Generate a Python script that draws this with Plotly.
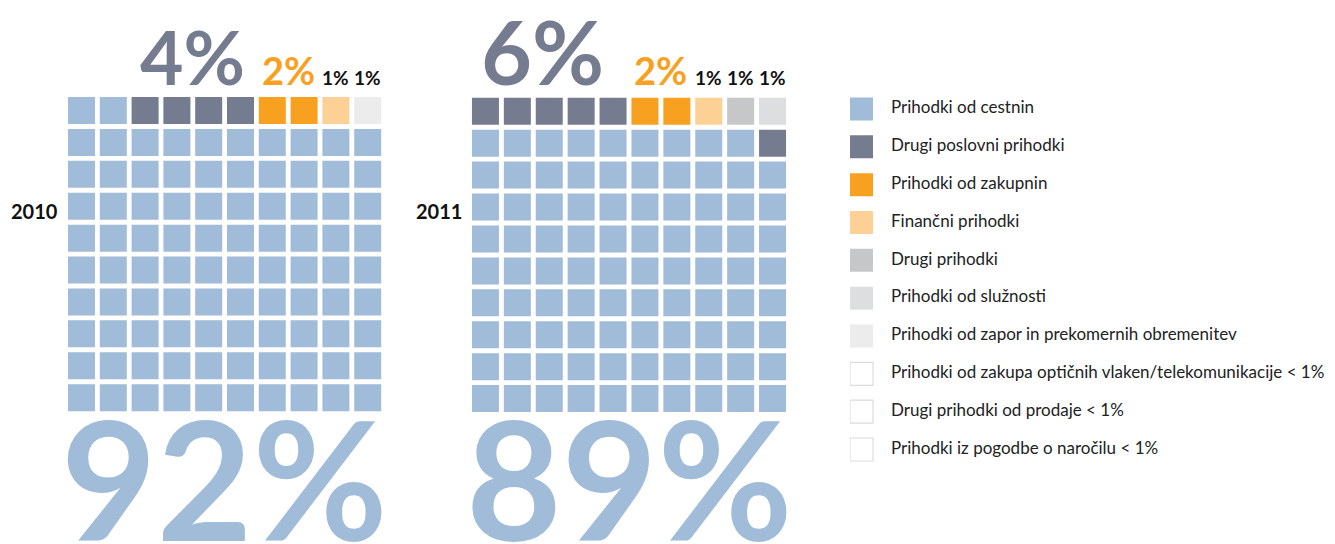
import plotly.graph_objects as go

# ---------------- data ----------------
categories = [
    "Prihodki od cestnin",
    "Drugi poslovni prihodki",
    "Prihodki od zakupnin",
    "Finančni prihodki",
    "Drugi prihodki",
    "Prihodki od služnosti",
    "Prihodki od zapor in prekomernih obremenitev",
    "Prihodki od zakupa optičnih vlaken/telekomunikacije < 1%",
    "Drugi prihodki od prodaje < 1%",
    "Prihodki iz pogodbe o naročilu < 1%",
]
years = ["2010", "2011"]
values_2010 = [92, 4, 2, 1, 0, 0, 1, 0, 0, 0]
values_2011 = [89, 6, 2, 1, 1, 1, 0, 0, 0, 0]

# ---------------- style ----------------
colors = ["#a0bcd8", "#767c8f", "#f8a020", "#fdd096", "#c6c7c9",
          "#dddee0", "#ececec", "#ffffff", "#ffffff", "#ffffff"]
border = ["rgba(0,0,0,0)"] * 7 + ["#dcdcdc"] * 3
label_color = {0: "#a0bcd8", 1: "#767c8f", 2: "#f8a020"}
label_size = {1: 19, 2: 38, 4: 75, 6: 88}
big_size = 165
FONT_B = "Lato"
W, H = 1335, 544
DESC = 0.213  # descent fraction of the font

panels = [
    dict(vals=values_2010, x="x", y="y", xd=[65.6 / W, 383.6 / W], yd=[0.2397, 0.8261]),
    dict(vals=values_2011, x="x2", y="y2", xd=[469.5 / W, 788.5 / W], yd=[0.238, 0.8248]),
]

fig = go.Figure()
annotations = []

for p_i, (year, p) in enumerate(zip(years, panels)):
    k = 0
    for c_i, v in enumerate(p["vals"]):
        xs, ys = [], []
        for _ in range(v):
            xs.append(k % 10)       # fill left to right
            ys.append(k // 10)      # from the bottom row upwards
            k += 1
        if v == 0:
            continue
        fig.add_trace(go.Scatter(
            x=xs, y=ys, mode="markers", xaxis=p["x"], yaxis=p["y"],
            marker=dict(symbol="square", size=27, color=colors[c_i], line=dict(width=0)),
            name=categories[c_i], showlegend=False,
            hovertemplate=categories[c_i] + ": " + str(v) + "%<extra>" + year + "</extra>",
        ))
        top_cols = [x for x, y in zip(xs, ys) if y == 9]
        if c_i == 0:
            annotations.append(dict(
                x=4.5, xref=p["x"], y=(H - 542) / H, yref="paper",
                text=f"{v}%", showarrow=False, xanchor="center", yanchor="bottom",
                yshift=-(DESC * big_size + 1),
                font=dict(family=FONT_B, size=big_size, color=label_color[0], weight=700),
            ))
        elif top_cols:
            s = label_size.get(v, 19)
            annotations.append(dict(
                x=sum(top_cols) / len(top_cols), xref=p["x"], y=(H - 86) / H, yref="paper",
                text=f"{v}%", showarrow=False, xanchor="center", yanchor="bottom",
                yshift=-(DESC * s + 1), xshift=-0.08 * s if len(top_cols) > 4 else 0,
                font=dict(family=FONT_B, size=s, color=label_color.get(c_i, "#111111"), weight=700),
            ))
    annotations.append(dict(
        x=-0.5, xref=p["x"], xshift=-6, y=(H - 211) / H, yref="paper",
        text=year, showarrow=False, xanchor="right", yanchor="middle",
        font=dict(family=FONT_B, size=20, color="#111111", weight=700),
    ))

# ---------------- legend (drawn as its own axis) ----------------
n = len(categories)
fig.add_trace(go.Scatter(
    x=[11.5] * n, y=list(range(n)), mode="markers", xaxis="x3", yaxis="y3",
    marker=dict(symbol="square", size=23, color=colors, line=dict(width=1.2, color=border)),
    showlegend=False, hoverinfo="skip",
))
fig.add_trace(go.Scatter(
    x=[41] * n, y=list(range(n)), mode="text", xaxis="x3", yaxis="y3",
    text=categories, textposition="middle right",
    textfont=dict(family=FONT_B, size=17, color="#222222"),
    showlegend=False, hoverinfo="skip",
))

ax_hidden = dict(visible=False, fixedrange=True)
fig.update_layout(
    width=W, height=H,
    margin=dict(l=0, r=0, t=0, b=0),
    paper_bgcolor="white", plot_bgcolor="white",
    showlegend=False,
    xaxis=dict(domain=panels[0]["xd"], range=[-0.5, 9.5], **ax_hidden),
    yaxis=dict(domain=panels[0]["yd"], range=[-0.5, 9.5], **ax_hidden),
    xaxis2=dict(domain=panels[1]["xd"], range=[-0.5, 9.5], **ax_hidden),
    yaxis2=dict(domain=panels[1]["yd"], range=[-0.5, 9.5], **ax_hidden),
    xaxis3=dict(domain=[850 / W, 1.0], range=[0, 485], **ax_hidden),
    yaxis3=dict(domain=[0.1389, 0.8344], range=[9.5, -0.5], **ax_hidden),
    annotations=annotations,
)

fig.write_html(
    "out.html",
    config={"displayModeBar": False},
    post_script="document.body.style.margin='0px';document.body.style.overflow='hidden';",
)
